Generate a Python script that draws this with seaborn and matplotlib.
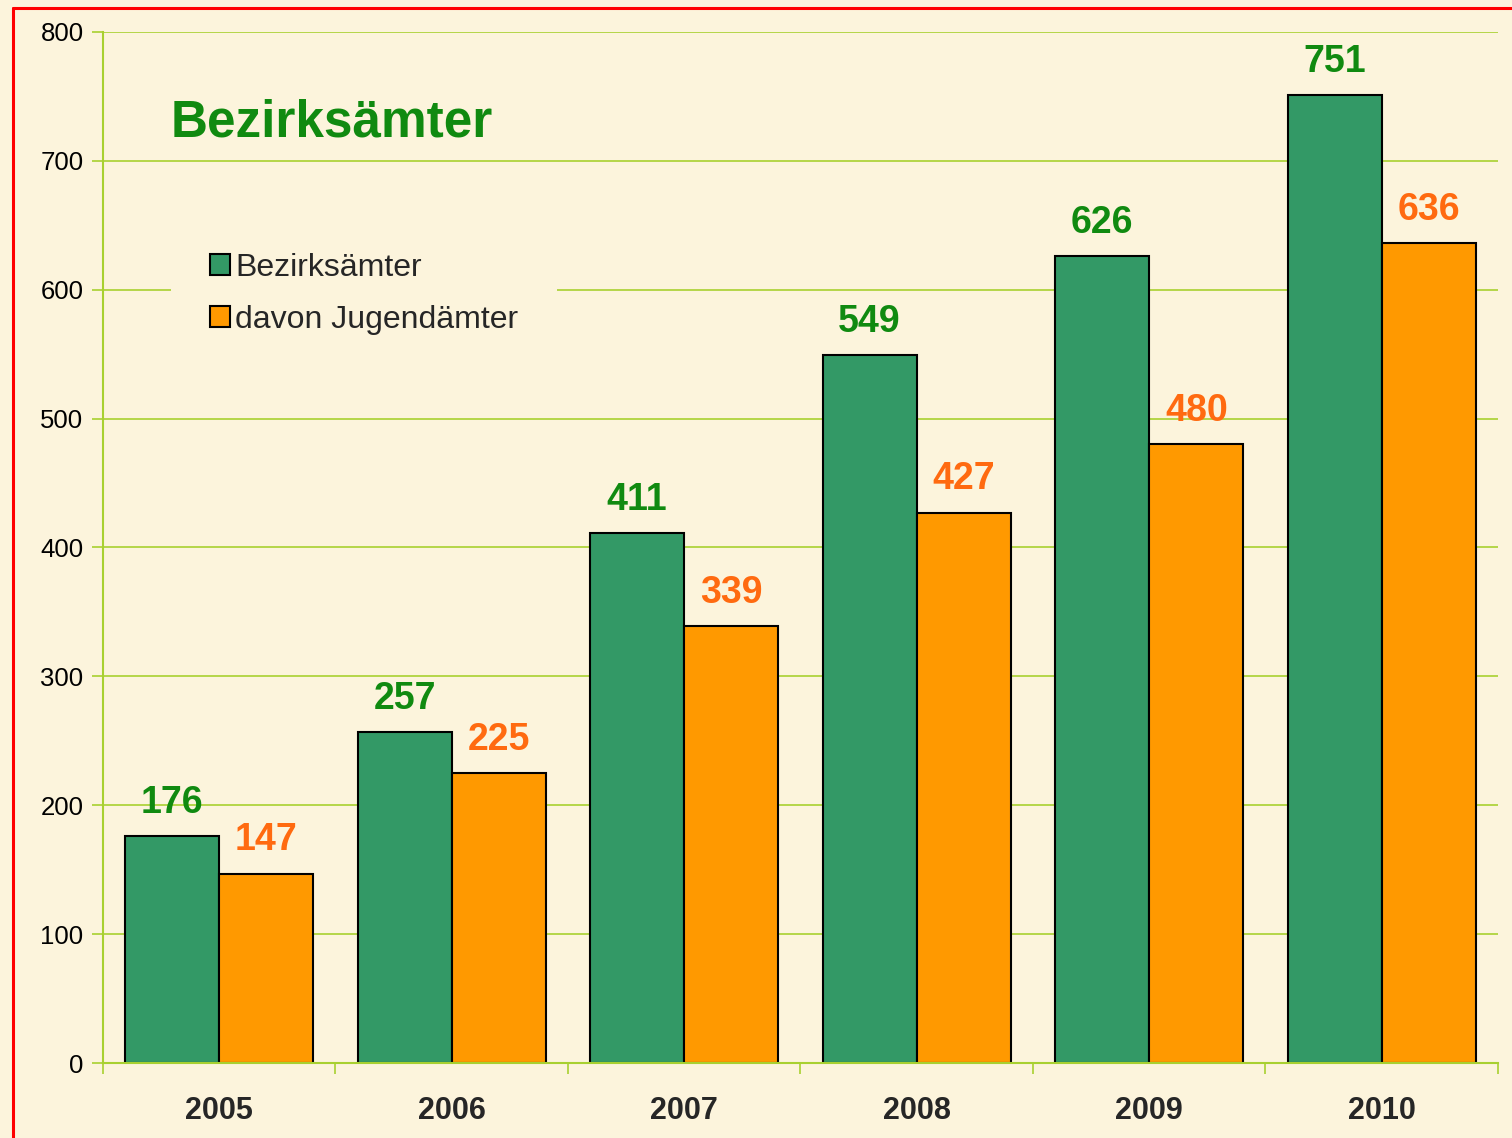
import pandas as pd
import matplotlib.pyplot as plt
import seaborn as sns
from matplotlib.lines import Line2D

# Data
years = ["2005", "2006", "2007", "2008", "2009", "2010"]
bezirksaemter = [176, 257, 411, 549, 626, 751]
jugendaemter = [147, 225, 339, 427, 480, 636]
series_names = ["Bezirksämter", "davon Jugendämter"]

df = pd.DataFrame({
    "year": years * 2,
    "value": bezirksaemter + jugendaemter,
    "series": [series_names[0]] * len(years) + [series_names[1]] * len(years),
})

bg = "#fcf4dc"
grid_col = "#a8d030"
bar_colors = ["#339966", "#ff9900"]
label_colors = ["#108a10", "#ff6a10"]

sns.set_theme(style="white")
plt.rcParams["font.family"] = ["Liberation Sans", "DejaVu Sans"]

fig = plt.figure(figsize=(15.12, 11.38), dpi=100, facecolor=bg)
ax = fig.add_axes([0.0681, 0.0659, 0.9226, 0.906])
ax.set_facecolor(bg)

sns.barplot(
    data=df, x="year", y="value", hue="series",
    palette=bar_colors, width=0.81, gap=0,
    edgecolor="black", linewidth=1.5, saturation=1,
    ax=ax,
)

# value labels above bars
for cont, col in zip(ax.containers, label_colors):
    ax.bar_label(cont, padding=11, color=col, fontsize=27, fontweight="bold")

ax.set_ylim(0, 800)
ax.set_xlim(-0.5, 5.5)
ax.set_yticks(range(0, 801, 100))
ax.yaxis.grid(True, color=grid_col, linewidth=1.2)
ax.set_axisbelow(True)
ax.set_xlabel("")
ax.set_ylabel("")

for s in ["top", "right"]:
    ax.spines[s].set_visible(False)
for s in ["left", "bottom"]:
    ax.spines[s].set_color(grid_col)
    ax.spines[s].set_linewidth(1.5)

ax.tick_params(axis="y", left=True, length=8, width=1.2, color=grid_col,
               labelsize=18.5, pad=6, labelcolor="black")
ax.set_xticks([i - 0.5 for i in range(7)], minor=True)
ax.tick_params(axis="x", which="major", length=0, labelsize=22, pad=24)
ax.tick_params(axis="x", which="minor", bottom=True, length=8, width=1.2,
               color=grid_col)
for lbl in ax.get_xticklabels():
    lbl.set_fontweight("bold")

# title inside the plot
ax.text(-0.21, 729, "Bezirksämter", fontsize=37, fontweight="bold",
        color="#108a10", va="center", ha="left")

leg = ax.legend(
    loc="upper left", bbox_to_anchor=(0.049, 0.823),
    fontsize=23, frameon=True, facecolor=bg, edgecolor="none",
    framealpha=1, handlelength=0.65, handleheight=0.65, handletextpad=0.15,
    borderpad=1.2, borderaxespad=0, labelspacing=0.68,
)
leg.get_frame().set_boxstyle("square", pad=0)

# red frame around the chart
fig.add_artist(Line2D([13 / 1512, 13 / 1512], [1 - 8 / 1138, 0], color="red",
                      linewidth=2.2, transform=fig.transFigure))
fig.add_artist(Line2D([13 / 1512, 1], [1 - 8 / 1138, 1 - 8 / 1138], color="red",
                      linewidth=2.2, transform=fig.transFigure))

fig.savefig("out.png", dpi=100, facecolor=bg)
